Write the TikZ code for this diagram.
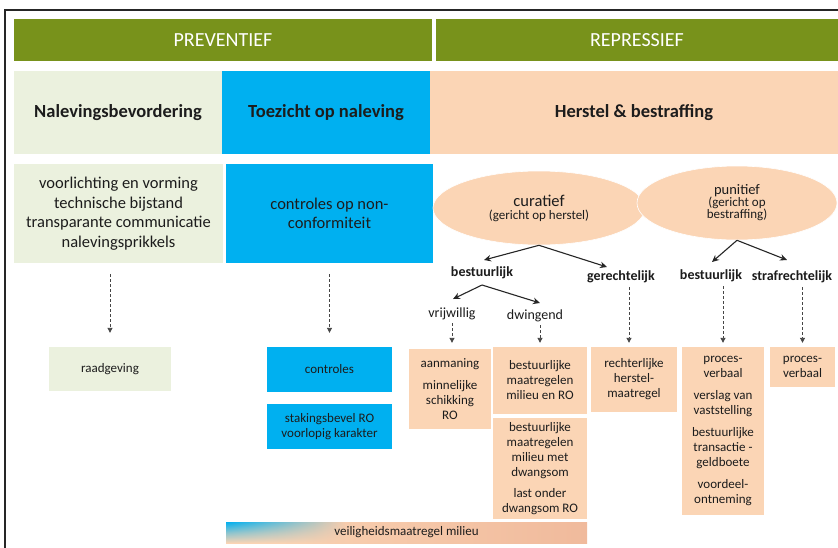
\documentclass[tikz,border=0pt]{standalone}
\usepackage{fontspec}
\setmainfont{Carlito}
\usetikzlibrary{arrows.meta,shapes.geometric,calc,fadings}
\definecolor{olive}{RGB}{120,146,27}
\definecolor{lgreen}{RGB}{235,241,222}
\definecolor{cblue}{RGB}{0,176,240}
\definecolor{peach}{RGB}{251,213,181}
\definecolor{salmon}{RGB}{240,186,156}
\definecolor{txt}{RGB}{28,28,28}
\definecolor{dgray}{RGB}{70,70,70}
\newcommand\setfs[2]{\fontsize{#1}{#2}\selectfont}
\begin{document}
\begin{tikzpicture}[x=1pt,y=-1pt,
  bx/.style={rectangle, inner sep=0pt, align=center, text=txt},
  lbl/.style={inner sep=0pt, text=txt},
  arr/.style={-{Stealth[length=7pt,width=6.5pt]}, line width=1.1pt, black!85},
  dasharr/.style={-{Triangle[length=5pt,width=5pt]}, dgray, line width=0.9pt, dash pattern=on 3pt off 2pt},
  ell/.style={ellipse, fill=peach, draw=white, line width=0.6pt, inner sep=0pt, align=center, text=txt}]
\useasboundingbox (0,0) rectangle (838,547);
\fill[white] (0,0) rectangle (838,547);
\draw[line width=1.7pt, black!85] (5,548) -- (5,10) -- (839,10);

% headers
\node[bx, fill=olive, text=white, minimum width=418pt, minimum height=42pt, font=\setfs{20}{24}] (prev) at (223,40) {PREVENTIEF};
\node[bx, fill=olive, text=white, minimum width=402pt, minimum height=42pt, font=\setfs{20}{24}] (repr) at (637,40) {REPRESSIEF};

\node[bx, fill=lgreen, minimum width=208pt, minimum height=83pt, font=\bfseries\setfs{18.5}{22}] (nal) at (118,112.5) {Nalevingsbevordering};
\node[bx, fill=cblue, minimum width=208pt, minimum height=83pt, font=\bfseries\setfs{18.5}{22}] (toe) at (326,112.5) {Toezicht op naleving};
\node[bx, fill=peach, minimum width=408pt, minimum height=83pt, font=\bfseries\setfs{18.5}{22}] (her) at (634,112.5) {Herstel \& bestraffing};

\node[bx, fill=lgreen, minimum width=209pt, minimum height=99pt, font=\setfs{16.5}{19.5}] (vl) at (118.5,213.5) {voorlichting en vorming\\technische bijstand\\transparante communicatie\\nalevingsprikkels};
\node[bx, fill=cblue, minimum width=207pt, minimum height=99pt, font=\setfs{16.5}{19.5}] (ctl) at (329.5,213.5) {controles op non-\\conformiteit};

% ellipses
\node[ell, minimum width=212pt, minimum height=74pt] (cur) at (539,208) {{\setfs{16.5}{17}curatief}\\[1pt]{\setfs{13}{15}(gericht op herstel)}};
\node[ell, minimum width=200pt, minimum height=74pt] (pun) at (737,203) {{\setfs{14.5}{17}punitief}\\{\setfs{13}{16.5}(gericht op}\\{\setfs{13}{16.5}bestraffing)}};

% labels
\node[lbl, font=\bfseries\setfs{14}{16}] (b1) at (482,273) {bestuurlijk};
\node[lbl, font=\bfseries\setfs{14}{16}] (ger) at (621,277) {gerechtelijk};
\node[lbl, font=\setfs{14}{16}] (vrij) at (452,314) {vrijwillig};
\node[lbl, font=\setfs{14}{16}] (dwi) at (535,316) {dwingend};
\node[lbl, font=\bfseries\setfs{14}{16}] (b2) at (711,276) {bestuurlijk};
\node[lbl, font=\bfseries\setfs{14}{16}] (str) at (792,277) {strafrechtelijk};

% bottom boxes
\node[bx, fill=lgreen, minimum width=122pt, minimum height=44pt, font=\setfs{13}{15}] (raad) at (110,369) {raadgeving};
\node[bx, fill=cblue, minimum width=125pt, minimum height=45pt, font=\setfs{13}{15}] (contr) at (329.5,369.5) {controles};
\node[bx, fill=cblue, minimum width=125pt, minimum height=45pt, font=\setfs{13}{15}] (stak) at (329.5,426.5) {stakingsbevel RO\\voorlopig karakter};
\node[bx, fill=peach, minimum width=82pt, minimum height=80pt, font=\setfs{13}{15}] (aan) at (450,389) {aanmaning\\[7pt]minnelijke\\schikking\\RO};
\node[bx, fill=peach, minimum width=94pt, minimum height=67pt, font=\setfs{13}{15}] (bm1) at (540,380.5) {bestuurlijke\\maatregelen\\milieu en RO};
\node[bx, fill=peach, minimum width=94pt, minimum height=101pt, font=\setfs{13}{15}] (bm2) at (540,468.5) {bestuurlijke\\maatregelen\\milieu met\\dwangsom\\[6pt]last onder\\dwangsom RO};
\node[bx, fill=peach, minimum width=86pt, minimum height=65pt, font=\setfs{13}{15}] (rech) at (634,379.5) {rechterlijke\\herstel-\\maatregel};
\node[bx, fill=peach, minimum width=82pt, minimum height=168pt, font=\setfs{13}{15}] (pv1) at (723,431) {proces-\\verbaal\\[7pt]verslag van\\vaststelling\\[7pt]bestuurlijke\\transactie -\\geldboete\\[7pt]voordeel-\\ontneming};
\node[bx, fill=peach, minimum width=65pt, minimum height=40pt, font=\setfs{13}{15}] (pv2) at (802.5,367) {proces-\\verbaal};

% veiligheidsmaatregel bar
\shade[left color=peach, right color=salmon] (226,522) rectangle (587,543);
\shade[top color=cblue, bottom color=peach, middle color=cblue!45!peach, path fading=east] (226,522) rectangle (345,543);
\node[lbl, font=\setfs{13}{15}] (veil) at (406.5,532.5) {veiligheidsmaatregel milieu};

% solid arrows
\coordinate (tb1) at (484,260);
\coordinate (tger) at (607,267);
\coordinate (tb2) at (712,262);
\coordinate (tstr) at (787,260);
\coordinate (sb1) at (482,285);
\coordinate (tvr) at (453,299);
\coordinate (tdw) at (540,303);
\draw[arr] (cur.south) -- (tb1);
\draw[arr] (cur.south) -- (tger);
\draw[arr] (pun.south) -- (tb2);
\draw[arr] (pun.south) -- (tstr);
\draw[arr] (sb1) -- (tvr);
\draw[arr] (sb1) -- (tdw);

% dashed arrows
\draw[dasharr, shorten <=11pt, shorten >=14pt] (raad.north |- vl.south) -- (raad.north);
\draw[dasharr, shorten <=11pt, shorten >=14pt] (contr.north |- ctl.south) -- (contr.north);
\draw[dasharr, shorten <=3pt, shorten >=6pt] (vrij.south) -- (vrij.south |- aan.north);
\draw[dasharr, shorten <=3pt, shorten >=4pt] (bm1.north |- dwi.south) -- (bm1.north);
\draw[dasharr, shorten <=4pt, shorten >=4pt] ([xshift=-5pt]rech.north |- ger.south) -- ([xshift=-5pt]rech.north);
\draw[dasharr, shorten <=4pt, shorten >=4pt] (pv1.north |- b2.south) -- (pv1.north);
\draw[dasharr, shorten <=4pt, shorten >=4pt] (pv2.north |- str.south) -- (pv2.north);
\end{tikzpicture}
\end{document}
